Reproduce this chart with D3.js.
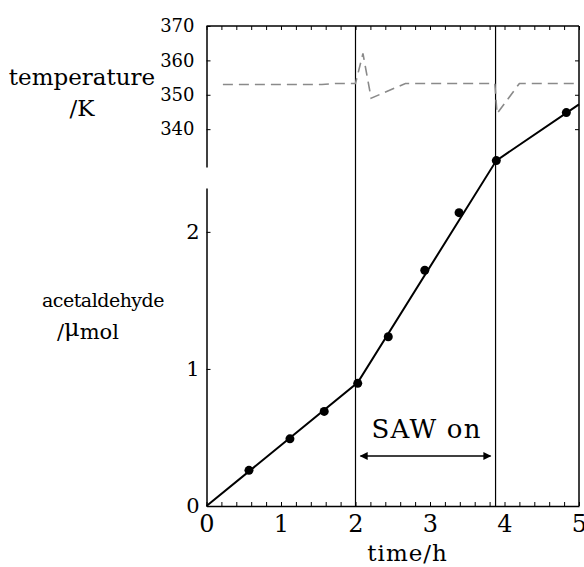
<!DOCTYPE html>
<html>
<head>
<meta charset="utf-8">
<script src="https://cdn.jsdelivr.net/npm/d3@7"></script>
<style>
  body { margin: 0; background: #fff; }
  svg text { fill: #000; }
</style>
</head>
<body>
<script>
// time (h) and acetaldehyde (µmol) measurements
const sampleTime = [0.57, 1.12, 1.58, 2.03, 2.44, 2.93, 3.39, 3.89, 4.83];
const sampleAcet = [0.26, 0.49, 0.69, 0.895, 1.235, 1.72, 2.14, 2.52, 2.87];

// fitted piecewise line
const fitTime = [0, 2.03, 3.89, 5];
const fitAcet = [0, 0.9, 2.52, 2.93];

// temperature trace (K)
const tempTime = [0.22, 1.55, 1.75, 2.0, 2.1, 2.21, 2.67, 3.87, 3.9, 4.2, 4.95];
const tempK    = [353, 353, 353.3, 353.3, 362, 349, 353.3, 353.3, 344.5, 353.3, 353.3];

// SAW switched on / off
const sawOn = 2.0, sawOff = 3.88;

const xTicks = [0, 1, 2, 3, 4, 5];
const tempTicks = [340, 350, 360, 370];
const acetTicks = [0, 1, 2];

const FONT = "DejaVu Serif";
const W = 584, H = 567;
const svg = d3.select("body").append("svg").attr("width", W).attr("height", H)
  .attr("font-family", FONT);

const x = d3.scaleLinear().domain([0, 5]).range([206.5, 579]);
const yT = d3.scaleLinear().domain([329, 370]).range([167, 26]);
const yA = d3.scaleLinear().domain([0, 2.32]).range([506, 188]);

const frameTop = 26, frameBottom = 506;
const fmt = d3.format("d");

// frame: top and right
svg.append("line").attr("x1", x(0)).attr("x2", x(5)).attr("y1", frameTop).attr("y2", frameTop)
  .attr("stroke", "#000").attr("stroke-width", 1.5);
svg.append("line").attr("x1", x(5)).attr("x2", x(5)).attr("y1", frameTop).attr("y2", frameBottom)
  .attr("stroke", "#000").attr("stroke-width", 1.5);

// minor ticks on top and bottom (every 0.2 h)
const minor = d3.range(0, 5.001, 0.2);
svg.append("g").attr("transform", `translate(0,${frameTop})`)
  .call(d3.axisTop(x).tickValues(minor).tickSizeInner(-4).tickSizeOuter(0).tickFormat(""))
  .call(g => g.select(".domain").remove());

svg.append("g").attr("transform", `translate(0,${frameBottom})`)
  .call(d3.axisBottom(x).tickValues(minor).tickSizeInner(-4).tickSizeOuter(0).tickFormat(""))
  .call(g => g.select(".domain").attr("stroke-width", 1.5));

// x tick labels
svg.append("g").attr("transform", `translate(0,${frameBottom})`)
  .call(d3.axisBottom(x).tickValues(xTicks).tickSize(0).tickPadding(8).tickFormat(fmt))
  .call(g => g.select(".domain").remove())
  .call(g => g.attr("font-family", FONT).attr("font-size", 24))
  .call(g => g.selectAll("text").attr("dy", "0.75em"));

// temperature axis (top left)
svg.append("g").attr("transform", `translate(${x(0)},0)`)
  .call(d3.axisLeft(yT).tickValues(tempTicks).tickSizeInner(-4).tickSizeOuter(0).tickPadding(12).tickFormat(fmt))
  .call(g => g.select(".domain").attr("stroke-width", 1.5))
  .call(g => g.attr("font-family", FONT).attr("font-size", 18));

svg.append("g").attr("transform", `translate(${x(5)},0)`)
  .call(d3.axisRight(yT).tickValues([340, 350, 360]).tickSizeInner(-4).tickSizeOuter(0).tickFormat(""))
  .call(g => g.select(".domain").remove());

// acetaldehyde axis (bottom left)
svg.append("g").attr("transform", `translate(${x(0)},0)`)
  .call(d3.axisLeft(yA).tickValues(acetTicks).tickSizeInner(-4).tickSizeOuter(0).tickPadding(7).tickFormat(fmt))
  .call(g => g.select(".domain").attr("stroke-width", 1.5))
  .call(g => g.attr("font-family", FONT).attr("font-size", 21));

// SAW on/off markers
[sawOn, sawOff].forEach(t => {
  svg.append("line").attr("x1", x(t)).attr("x2", x(t)).attr("y1", frameTop).attr("y2", frameBottom)
    .attr("stroke", "#000").attr("stroke-width", 1.2);
});

// temperature trace
const tempData = tempTime.map((t, i) => [t, tempK[i]]);
svg.append("path").datum(tempData)
  .attr("fill", "none").attr("stroke", "#8a8a8a").attr("stroke-width", 1.6)
  .attr("stroke-dasharray", "10,6")
  .attr("d", d3.line().x(d => x(d[0])).y(d => yT(d[1])));

// fitted line
const fitData = fitTime.map((t, i) => [t, fitAcet[i]]);
svg.append("path").datum(fitData)
  .attr("fill", "none").attr("stroke", "#000").attr("stroke-width", 2)
  .attr("d", d3.line().x(d => x(d[0])).y(d => yA(d[1])));

// samples
svg.append("g").selectAll("circle")
  .data(sampleTime.map((t, i) => [t, sampleAcet[i]]))
  .join("circle")
  .attr("cx", d => x(d[0])).attr("cy", d => yA(d[1])).attr("r", 4.5).attr("fill", "#000");

// SAW on arrow
const defs = svg.append("defs");
defs.append("marker").attr("id", "ah").attr("viewBox", "0 0 10 10")
  .attr("refX", 9).attr("refY", 5).attr("markerWidth", 10).attr("markerHeight", 8)
  .attr("markerUnits", "userSpaceOnUse").attr("orient", "auto-start-reverse")
  .append("path").attr("d", "M0,0L10,5L0,10z").attr("fill", "#000");

const arrowY = 456;
svg.append("line")
  .attr("x1", x(sawOn) + 5).attr("x2", x(sawOff) - 5)
  .attr("y1", arrowY).attr("y2", arrowY)
  .attr("stroke", "#000").attr("stroke-width", 1.5)
  .attr("marker-start", "url(#ah)").attr("marker-end", "url(#ah)");

svg.append("text").attr("x", (x(sawOn) + x(sawOff)) / 2 + 1).attr("y", 438)
  .attr("text-anchor", "middle").attr("font-size", 26).attr("letter-spacing", 1.2)
  .text("SAW on");

// axis titles
svg.append("text").attr("x", x(2.7)).attr("y", 561)
  .attr("text-anchor", "middle").attr("font-size", 23).attr("letter-spacing", 1)
  .text("time/h");

svg.append("text").attr("x", 82).attr("y", 85)
  .attr("text-anchor", "middle").attr("font-size", 23)
  .text("temperature");
svg.append("text").attr("x", 82).attr("y", 116)
  .attr("text-anchor", "middle").attr("font-size", 23)
  .text("/K");

svg.append("text").attr("x", 103).attr("y", 307)
  .attr("text-anchor", "middle").attr("font-size", 19).attr("letter-spacing", -0.5)
  .text("acetaldehyde");
const um = svg.append("text").attr("x", 88).attr("y", 339)
  .attr("text-anchor", "middle").attr("font-size", 21);
um.append("tspan").text("/");
um.append("tspan").attr("dy", -3).attr("font-size", 24).text("μ");
um.append("tspan").attr("dy", 3).text("mol");
</script>
</body>
</html>
